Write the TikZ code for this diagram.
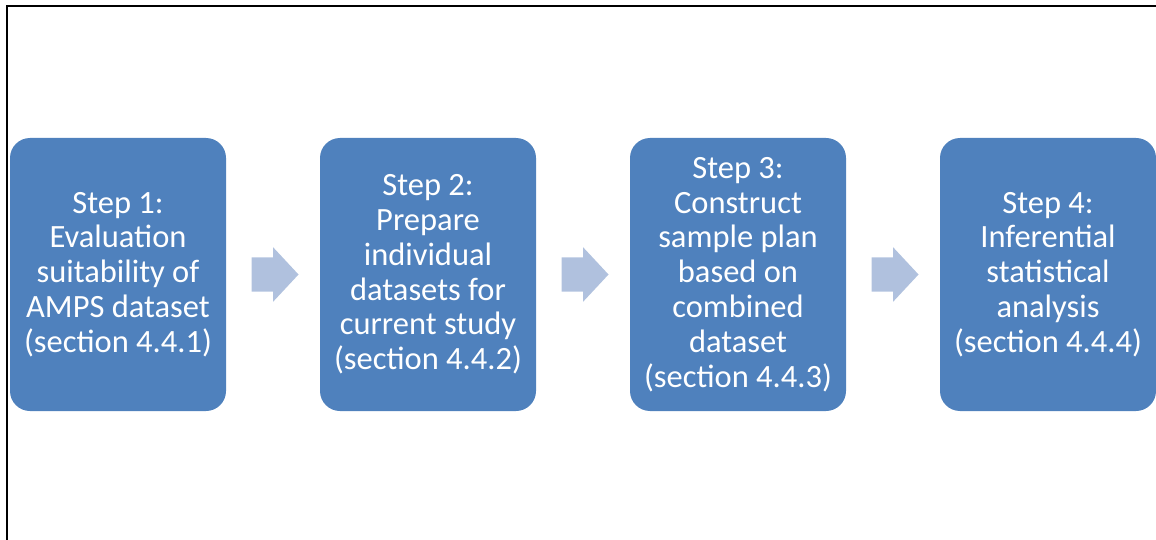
\documentclass[tikz,border=0pt]{standalone}
\usepackage{fontspec}
\setmainfont{Carlito}
\usetikzlibrary{shapes.arrows,calc}
\definecolor{stepblue}{HTML}{4F81BD}
\definecolor{arrowblue}{HTML}{B0C1DE}
\begin{document}
\begin{tikzpicture}[x=1pt,y=-1pt,
  stepbox/.style={draw=none,fill=stepblue,rounded corners=20pt,
    minimum width=216pt,minimum height=273pt,inner sep=0pt,
    text=white,align=center,font=\fontsize{32.5}{34.8}\selectfont},
  flowarrow/.style={single arrow,fill=arrowblue,draw=none,
    minimum height=47pt,minimum width=54pt,single arrow head extend=10pt,
    inner xsep=0pt,inner ysep=17pt,single arrow tip angle=94}]
  \useasboundingbox (0,0) rectangle (1156,540);
  % partial frame: top and left edges
  \draw[line width=2pt] (6.5,540) -- (6.5,6.5) -- (1156,6.5);

  \node[stepbox] (s1) at (118,274.5) {Step 1:\\Evaluation\\suitability of\\AMPS dataset\\(section 4.4.1)};
  \node[stepbox] (s2) at (428,274.5) {Step 2:\\Prepare\\individual\\datasets for\\current study\\(section 4.4.2)};
  \node[stepbox] (s3) at (738,274.5) {Step 3:\\Construct\\sample plan\\based on\\combined\\dataset\\(section 4.4.3)};
  \node[stepbox] (s4) at (1048,274.5) {Step 4:\\Inferential\\statistical\\analysis\\(section 4.4.4)};

  \node[flowarrow] (a1) at ($(s1.east)!0.5!(s2.west)+(-6,0)$) {};
  \node[flowarrow] (a2) at ($(s2.east)!0.5!(s3.west)+(-6,0)$) {};
  \node[flowarrow] (a3) at ($(s3.east)!0.5!(s4.west)+(-6,0)$) {};
\end{tikzpicture}
\end{document}
